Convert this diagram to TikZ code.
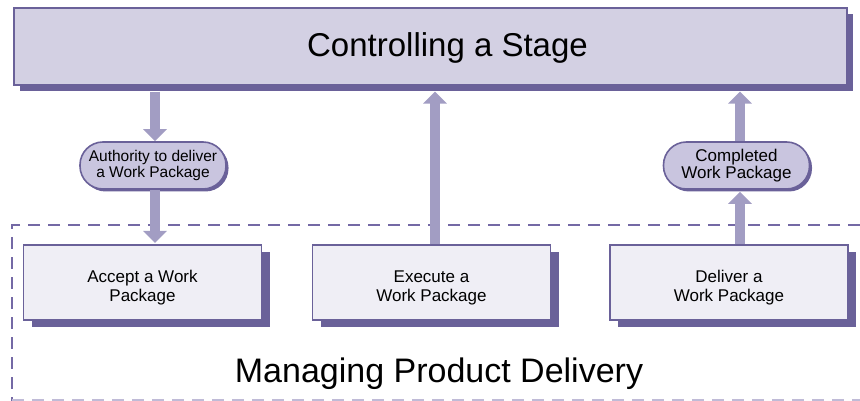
\documentclass[tikz,border=0pt]{standalone}
\usepackage{fontspec}
\setmainfont{Liberation Sans}
\usetikzlibrary{arrows.meta,shadows}
\definecolor{bordc}{HTML}{6A6199}
\definecolor{topfill}{HTML}{D3D0E3}
\definecolor{boxfill}{HTML}{EFEEF5}
\definecolor{ovalfill}{HTML}{C9C5DF}
\definecolor{arrc}{HTML}{A29DC3}
\definecolor{dashc}{HTML}{7469A5}
\tikzset{
  topbox/.style={draw=bordc, line width=1.2pt, fill=topfill, minimum width=833pt, minimum height=77pt, inner sep=0pt,
    drop shadow={shadow xshift=6pt, shadow yshift=-6pt, fill=bordc, opacity=1}},
  procbox/.style={draw=bordc, line width=1.2pt, fill=boxfill, minimum width=238pt, minimum height=75pt, inner sep=0pt,
    drop shadow={shadow xshift=8pt, shadow yshift=-7pt, fill=bordc, opacity=1}},
  boxtext/.style={align=center, inner sep=0pt, font=\fontsize{17}{19}\selectfont},
  oval/.style={draw=bordc, line width=1.6pt, fill=ovalfill, minimum width=146pt, minimum height=47pt, inner sep=0pt,
    rounded corners=23pt, align=center,
    drop shadow={shadow xshift=2.5pt, shadow yshift=-2.5pt, fill=bordc, opacity=1}},
  flow/.style={draw=arrc, line width=10pt, -{Triangle[width=23pt,length=12pt]}},
  region/.style={draw=dashc, line width=1.8pt, dash pattern=on 12pt off 8pt},
}
\begin{document}
\begin{tikzpicture}[x=1pt,y=-1pt]
\useasboundingbox (0,0) rectangle (860,401);
% dashed region
\draw[region] (860,225) -- (12,225) -- (12,401);
\draw[region, draw=dashc!45] (12,400) -- (860,400);
% nodes
\node[topbox] (stage) at (430.5,46.5) {};
\node[font=\fontsize{33}{36}\selectfont, anchor=base] (stagelbl) at (447.5,57) {Controlling a Stage};
\node[procbox] (accept) at (142.5,282.5) {};
\node[procbox] (exec) at (431.5,282.5) {};
\node[procbox] (deliver) at (729,282.5) {};
\node[boxtext] (accepttxt) at ([yshift=-5pt]accept.center) {Accept a Work\\Package};
\node[boxtext] (exectxt) at ([yshift=-5pt]exec.center) {Execute a\\Work Package};
\node[boxtext] (delivertxt) at ([yshift=-5pt]deliver.center) {Deliver a\\Work Package};
\node[oval, font=\fontsize{15.5}{15.5}\selectfont] (auth) at (153,165.5) {Authority to deliver\\a Work Package};
\node[oval, font=\fontsize{17}{17}\selectfont] (done) at (736.5,165.5) {Completed\\Work Package};
\node[font=\fontsize{34}{38}\selectfont, anchor=base] (mpd) at (439,382) {Managing Product Delivery};
% coordinates for arrow x positions
\coordinate (ax) at (155,0);
\coordinate (mx) at (435,0);
\coordinate (rx) at (740,0);
% arrows
\draw[flow] ([yshift=-6pt]stage.south -| ax) -- (auth.north -| ax);
\draw[flow] (auth.south -| ax) -- ([yshift=1.5pt]accept.north -| ax);
\draw[flow] (exec.north -| mx) -- ([yshift=-6pt]stage.south -| mx);
\draw[flow] (deliver.north -| rx) -- ([yshift=-2pt]done.south -| rx);
\draw[flow] (done.north -| rx) -- ([yshift=-6pt]stage.south -| rx);
\end{tikzpicture}
\end{document}
